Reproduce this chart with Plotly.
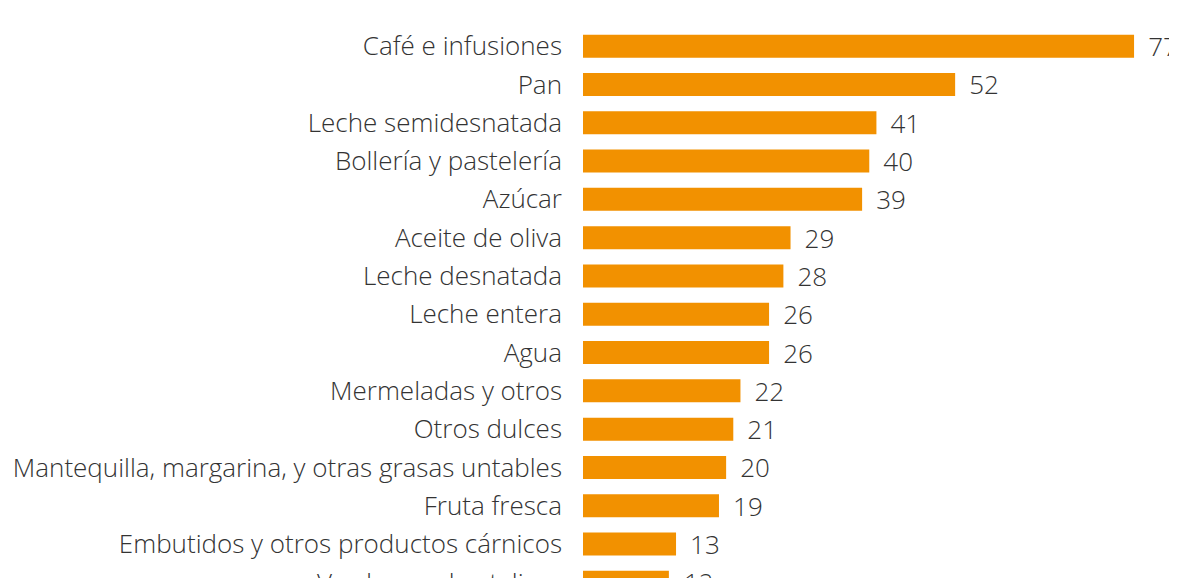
import plotly.graph_objects as go

categories = [
    "Café e infusiones", "Pan", "Leche semidesnatada", "Bollería y pastelería",
    "Azúcar", "Aceite de oliva", "Leche desnatada", "Leche entera", "Agua",
    "Mermeladas y otros", "Otros dulces",
    "Mantequilla, margarina, y otras grasas untables", "Fruta fresca",
    "Embutidos y otros productos cárnicos", "Verduras y hortalizas",
]
values = [77, 52, 41, 40, 39, 29, 28, 26, 26, 22, 21, 20, 19, 13, 12]

BAR_COLOR = "#F29100"
TEXT_COLOR = "#333333"
FONT = dict(family="Open Sans, sans-serif", size=26, color=TEXT_COLOR, weight=300)

# layout geometry (pixels); the page adds an 8 px body margin
W, H = 1169, 570
M_L, M_R, M_T, M_B = 575, 0, 19, 0
ROW_PX = 38.3
plot_h = H - M_T - M_B
y_top = -0.5
y_bottom = y_top + plot_h / ROW_PX  # last row is cut by the page edge

fig = go.Figure(
    go.Bar(
        x=values,
        y=categories,
        orientation="h",
        marker=dict(color=BAR_COLOR, line=dict(width=0)),
        text=["\u00a0\u2009" + str(v) for v in values],
        textposition="outside",
        constraintext="none",
        textfont=FONT,
        cliponaxis=False,
        hoverinfo="skip",
    )
)

# labels for rows that fall beyond the visible axis range
for i, (cat, v) in enumerate(zip(categories, values)):
    if i > y_bottom:
        ypos = 1 - (i - y_top) / (y_bottom - y_top)
        fig.add_annotation(
            text=cat,
            xref="paper", x=0, xanchor="right", xshift=-19,
            yref="paper", y=ypos, yanchor="middle",
            showarrow=False, font=FONT,
        )
        fig.add_annotation(
            text=str(v),
            xref="x", x=v, xanchor="left", xshift=13,
            yref="paper", y=ypos, yanchor="middle",
            showarrow=False, font=FONT,
        )

fig.update_layout(
    width=W,
    height=H,
    margin=dict(l=M_L, r=M_R, t=M_T, b=M_B),
    paper_bgcolor="white",
    plot_bgcolor="white",
    bargap=0.4,
    showlegend=False,
    font=FONT,
    xaxis=dict(range=[0, 83], visible=False, fixedrange=True),
    yaxis=dict(
        range=[y_bottom, y_top],
        showgrid=False,
        zeroline=False,
        showline=False,
        ticks="",
        ticklabelstandoff=20,
        tickfont=FONT,
        fixedrange=True,
    ),
)

fig.write_html("out.html")
